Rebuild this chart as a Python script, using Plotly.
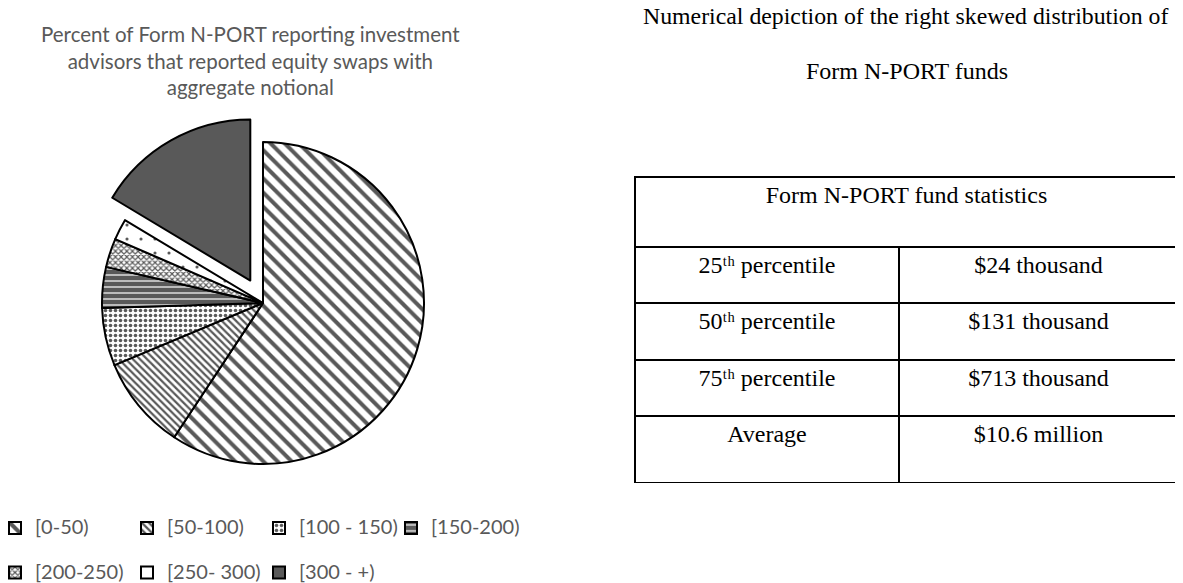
import plotly.graph_objects as go

# notional bins and share of advisors (%)
bins = ["[0-50)", "[50-100)", "[100 - 150)", "[150-200)", "[200-250)", "[250- 300)", "[300 - +)"]
shares = [59.3, 9.4, 5.8, 4.1, 2.9, 2.1, 16.4]

# table contents
table_title = "Form N-PORT fund statistics"
stat_names = ["25ᵗʰ percentile", "50ᵗʰ percentile", "75ᵗʰ percentile", "Average"]
stat_values = ["$24 thousand", "$131 thousand", "$713 thousand", "$10.6 million"]

# page body has an 8px margin, so the figure is a bit smaller than the window
OFF = 8
W, H = 1183 - OFF, 583 - OFF
DARK = "#595959"
SERIF = "Liberation Serif"
SANS = "Lato"

# hatch styles per slice (black & white print look)
bg = ["white", "white", "white", DARK, "white", "white", DARK]
fg = [DARK, DARK, DARK, "white", DARK, DARK, DARK]
shape = ["\\", "\\", ".", "-", "x", ".", ""]
psize = [10, 5, 5, 6, 4, 14, 8]
solid = [0.4, 0.45, 0.4, 0.2, 0.5, 0.04, 0.3]
pull = [0, 0, 0, 0, 0, 0, 0.16]

# legend text: bigger glyphs plus a blank line to get the wide row spacing
legend_labels = [f"<span style='font-size:20px'>{b}</span><br> " for b in bins]


def px_x(v):
    # screen pixel -> paper fraction
    return (v - OFF) / W


def px_y(v):
    return 1 - (v - OFF) / H


fig = go.Figure()

# pie: centre (263, 303), radius ~161 px on screen
half = 161 * (1 + max(pull))
fig.add_trace(go.Pie(
    labels=legend_labels,
    values=shares,
    sort=False,
    direction="clockwise",
    rotation=0,
    pull=pull,
    textinfo="none",
    hovertemplate="%{customdata}: %{percent}<extra></extra>",
    customdata=bins,
    marker=dict(
        colors=bg,
        line=dict(color="black", width=2),
        pattern=dict(shape=shape, fgcolor=fg, bgcolor=bg, size=psize, solidity=solid),
    ),
    domain=dict(x=[px_x(263 - half), px_x(263 + half)],
                y=[px_y(303 + half), px_y(303 - half)]),
))


def stat_table(header, rows, top, bottom, widths, head_h, cell_h=56):
    cols = list(zip(*rows)) if rows else []
    return go.Table(
        domain=dict(x=[px_x(635), px_x(1178)], y=[px_y(bottom), px_y(top)]),
        columnwidth=widths,
        header=dict(values=header, height=head_h, align="center",
                    fill_color="white", line=dict(color="black", width=2),
                    font=dict(family=SERIF, size=24, color="black")),
        cells=dict(values=[list(c) for c in cols], height=cell_h, align="center",
                   fill_color="white", line=dict(color="black", width=2),
                   font=dict(family=SERIF, size=24, color="black")),
    )


pairs = list(zip(stat_names, stat_values))
fig.add_trace(stat_table([table_title], [], 177, 247, [1], 70))
fig.add_trace(stat_table(list(pairs[0]), pairs[1:3], 247, 416, [264, 279], 56, 56.5))
fig.add_trace(stat_table(list(pairs[3]), [], 416, 483, [264, 279], 67))

fig.add_annotation(
    text="Percent of Form N-PORT reporting investment<br>advisors that reported equity swaps with<br>aggregate notional",
    x=px_x(250), y=px_y(61), xref="paper", yref="paper", showarrow=False,
    xanchor="center", yanchor="middle", align="center",
    font=dict(family=SANS, size=20.5, color=DARK),
)
fig.add_annotation(
    text="Numerical depiction of the right skewed distribution of",
    x=px_x(905), y=px_y(16), xref="paper", yref="paper", showarrow=False,
    xanchor="center", yanchor="middle",
    font=dict(family=SERIF, size=23.8, color="black"),
)
fig.add_annotation(
    text="Form N-PORT funds",
    x=px_x(906.5), y=px_y(71), xref="paper", yref="paper", showarrow=False,
    xanchor="center", yanchor="middle",
    font=dict(family=SERIF, size=24, color="black"),
)

fig.update_layout(
    width=W, height=H,
    margin=dict(l=0, r=0, t=0, b=0, autoexpand=False),
    paper_bgcolor="white", plot_bgcolor="white",
    showlegend=True,
    legend=dict(
        orientation="h", x=-13 / W, xanchor="left", y=px_y(511), yanchor="top",
        entrywidth=87, entrywidthmode="pixels", itemwidth=30, valign="top",
        font=dict(family=SANS, size=16, color=DARK), bgcolor="rgba(0,0,0,0)",
    ),
)

fig.write_html("out.html")
